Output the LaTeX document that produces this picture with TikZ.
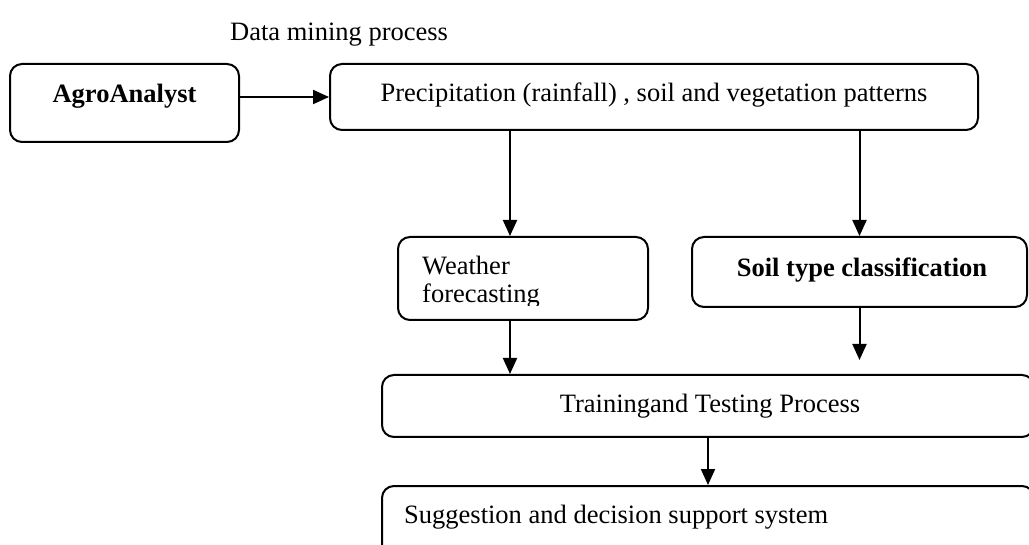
\documentclass[tikz,border=0pt]{standalone}
\usepackage{fontspec}
\setmainfont{Liberation Serif}
\usetikzlibrary{arrows.meta}
\begin{document}
\begin{tikzpicture}[x=1pt,y=-1pt,
  box/.style={draw, line width=2pt, rounded corners=12pt, inner sep=0pt},
  txt/.style={inner sep=0pt, font=\fontsize{26.5}{30}\selectfont},
  txtb/.style={inner sep=0pt, font=\fontsize{26.5}{30}\selectfont\bfseries},
  arr/.style={line width=2pt, -{Triangle[length=16pt,width=14pt]}}]
\useasboundingbox (0,0) rectangle (1029,545);
\clip (0,0) rectangle (1029,545);
\fill[white] (0,0) rectangle (1029,545);

% title
\node[txt, anchor=base west] (title) at (230,41) {Data mining process};

% boxes
\node[box, minimum width=229pt, minimum height=78pt] (agro) at (124.5,103) {};
\node[txtb, anchor=base] (agrot) at (124.5,103) {AgroAnalyst};

\node[box, minimum width=648pt, minimum height=66pt] (precip) at (654,97) {};
\node[txt, anchor=base] (precipt) at (654,102) {Precipitation (rainfall) , soil and vegetation patterns};

\node[box, minimum width=250pt, minimum height=83pt] (weather) at (523,278.5) {};
\begin{scope}
  \clip (398,237) rectangle (648,306);
  \node[txt, anchor=base west] (weathert1) at (422,275) {Weather};
  \node[txt, anchor=base west] (weathert2) at (422,303) {forecasting};
\end{scope}

\node[box, minimum width=335pt, minimum height=70pt] (soil) at (859.5,272) {};
\node[txtb, anchor=base] (soilt) at (862,277) {Soil type classification};

\node[box, minimum width=652pt, minimum height=62pt] (training) at (708,406) {};
\node[txt, anchor=base] (trainingt) at (710,413) {Trainingand Testing Process};

\node[box, minimum width=652pt, minimum height=70pt] (suggestion) at (708,521) {};
\node[txt, anchor=base west] (suggestiont) at (404,523) {Suggestion and decision support system};

% connectors
\coordinate (wx) at (510,0);
\coordinate (sEnd) at (859.5,360);
\draw[arr] (precip.west -| agro.east) -- (precip.west);
\draw[arr] (precip.south -| wx) -- (weather.north -| wx);
\draw[arr] (precip.south -| soil.north) -- (soil.north);
\draw[arr] (weather.south -| wx) -- (training.north -| wx);
\draw[arr] (soil.south) -- (sEnd);
\draw[arr] (training.south) -- (suggestion.north);
\end{tikzpicture}
\end{document}
